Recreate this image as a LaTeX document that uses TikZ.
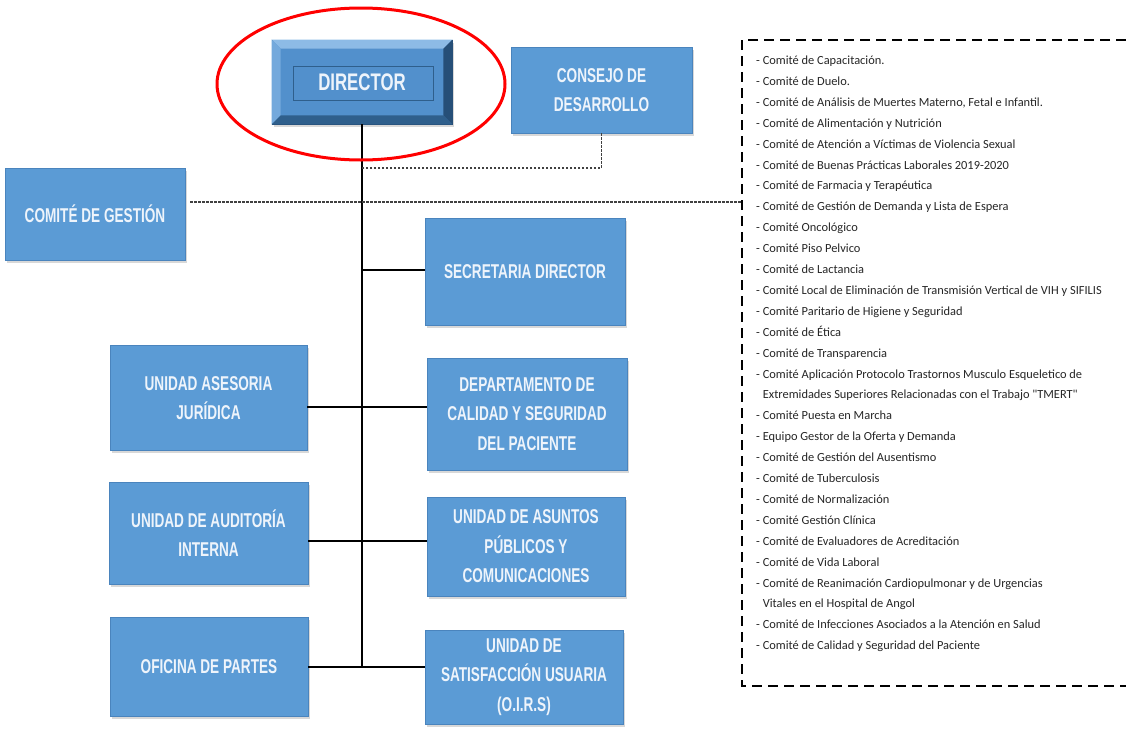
\documentclass[tikz,border=0pt]{standalone}
\usepackage{fontspec}
\newfontfamily\cajafont[FakeStretch=0.68]{Liberation Sans}
\newfontfamily\dirfont[FakeStretch=0.7]{Liberation Sans}
\newfontfamily\listafont{Carlito}
\usetikzlibrary{shadows}
\definecolor{azulcaja}{HTML}{5B9BD5}
\definecolor{bordecaja}{HTML}{4A84BD}
\definecolor{textocaja}{HTML}{EEF4FB}
\definecolor{azuldir}{HTML}{5290CC}
\definecolor{bisel1}{HTML}{8DBBE6}
\definecolor{bisel2}{HTML}{74A9DC}
\definecolor{bisel3}{HTML}{2F5F8C}
\definecolor{bisel4}{HTML}{264F78}

\begin{document}
\begin{tikzpicture}[x=1pt,y=-1pt,
    caja/.style={fill=azulcaja, draw=bordecaja, line width=.6pt, text=textocaja,
        align=center, inner sep=4pt,
        font=\cajafont\bfseries\fontsize{20}{29.5}\selectfont,
        drop shadow={shadow xshift=1.5pt,shadow yshift=-2.5pt,opacity=.3}},
    rama/.style={line width=1.4pt},
    enlace/.style={line width=1.6pt, draw=black!75, dash pattern=on 2.5pt off 1.5pt},
    marco/.style={line width=2.8pt, dash pattern=on 10pt off 6pt},
    item/.style={font=\listafont\fontsize{12.4}{14}\selectfont, text=black!85,
        inner sep=0pt, anchor=base west}]

\useasboundingbox[fill=white] (0,0) rectangle (1126,728);

\node[caja, minimum width=180pt, minimum height=84pt, fill=azuldir, draw=bisel4,
    font=\dirfont\bfseries\fontsize{24}{28}\selectfont] (director) at (362,82) {DIRECTOR};
\fill[bisel1] (director.north west) -- (director.north east) -- ([shift={(-9,9)}]director.north east)
    -- ([shift={(9,9)}]director.north west) -- cycle;
\fill[bisel2] (director.north west) -- ([shift={(9,9)}]director.north west)
    -- ([shift={(9,-9)}]director.south west) -- (director.south west) -- cycle;
\fill[bisel3] (director.south west) -- (director.south east) -- ([shift={(-9,-9)}]director.south east)
    -- ([shift={(9,-9)}]director.south west) -- cycle;
\fill[bisel4] (director.north east) -- ([shift={(-9,9)}]director.north east)
    -- ([shift={(-9,-9)}]director.south east) -- (director.south east) -- cycle;
\draw[bisel3, line width=.8pt] ([shift={(-69,-16)}]director.center) rectangle ([shift={(71,18)}]director.center);

\node[caja, minimum width=181pt, minimum height=86pt] (consejo) at (601.5,90) {CONSEJO DE\\DESARROLLO};
\node[caja, minimum width=180pt, minimum height=92pt] (gestion) at (95,214) {COMITÉ DE GESTIÓN};
\node[caja, minimum width=200pt, minimum height=107pt] (secretaria) at (525,271.5) {SECRETARIA DIRECTOR};
\node[caja, minimum width=197pt, minimum height=105pt] (asesoria) at (208.5,398) {UNIDAD ASESORIA\\JURÍDICA};
\node[caja, minimum width=200pt, minimum height=112pt] (departamento) at (527,414) {DEPARTAMENTO DE\\CALIDAD Y SEGURIDAD\\DEL PACIENTE};
\node[caja, minimum width=199pt, minimum height=102pt] (auditoria) at (208.5,533) {UNIDAD DE AUDITORÍA\\INTERNA};
\node[caja, minimum width=198pt, minimum height=99pt] (asuntos) at (526,546.5) {UNIDAD DE ASUNTOS\\PÚBLICOS Y\\COMUNICACIONES};
\node[caja, minimum width=198pt, minimum height=99pt] (oficina) at (209,666.5) {OFICINA DE PARTES};
\node[caja, minimum width=198pt, minimum height=94pt] (satisfaccion) at (524,677) {UNIDAD DE\\SATISFACCIÓN USUARIA\\(O.I.R.S)};

\coordinate (t0) at (362,168);
\coordinate (t1) at (362,270);
\coordinate (t2) at (362,407);
\coordinate (t3) at (362,541);
\coordinate (t4) at (362,667);
\coordinate (marcoO) at (742,202);

\draw[rama] (director.south) -- (t4);
\draw[rama] (t1) -- (secretaria.west |- t1);
\draw[rama] (asesoria.east |- t2) -- (departamento.west |- t2);
\draw[rama] (auditoria.east |- t3) -- (asuntos.west |- t3);
\draw[rama] (oficina.east |- t4) -- (satisfaccion.west |- t4);

\draw[enlace] (consejo.south) |- (t0);
\draw[enlace] ([xshift=5pt]gestion.east |- marcoO) -- (marcoO);

\draw[marco] (1126,40) -| (742,686) -- (1126,686);

\foreach \texto [count=\i] in {
    - Comité de Capacitación.,
    - Comité de Duelo.,
    {- Comité de Análisis de Muertes Materno, Fetal e Infantil.},
    - Comité de Alimentación y Nutrición,
    - Comité de Atención a Víctimas de Violencia Sexual,
    - Comité de Buenas Prácticas Laborales 2019-2020,
    - Comité de Farmacia y Terapéutica,
    - Comité de Gestión de Demanda y Lista de Espera,
    - Comité Oncológico,
    - Comité Piso Pelvico,
    - Comité de Lactancia,
    - Comité Local de Eliminación de Transmisión Vertical de VIH y SIFILIS,
    - Comité Paritario de Higiene y Seguridad,
    - Comité de Ética,
    - Comité de Transparencia,
    - Comité Aplicación Protocolo Trastornos Musculo Esqueletico de,
    \hphantom{- }Extremidades Superiores Relacionadas con el Trabajo "TMERT",
    - Comité Puesta en Marcha,
    - Equipo Gestor de la Oferta y Demanda,
    - Comité de Gestión del Ausentismo,
    - Comité de Tuberculosis,
    - Comité de Normalización,
    - Comité Gestión Clínica,
    - Comité de Evaluadores de Acreditación,
    - Comité de Vida Laboral,
    - Comité de Reanimación Cardiopulmonar y de Urgencias,
    \hphantom{- }Vitales en el Hospital de Angol,
    - Comité de Infecciones Asociados a la Atención en Salud,
    - Comité de Calidad y Seguridad del Paciente}
  \node[item] (c\i) at (756,{64.5+20.9*(\i-1)}) {\texto};

\draw[red, line width=3pt] (361,84) ellipse [x radius=144pt, y radius=76pt];

\end{tikzpicture}
\end{document}
